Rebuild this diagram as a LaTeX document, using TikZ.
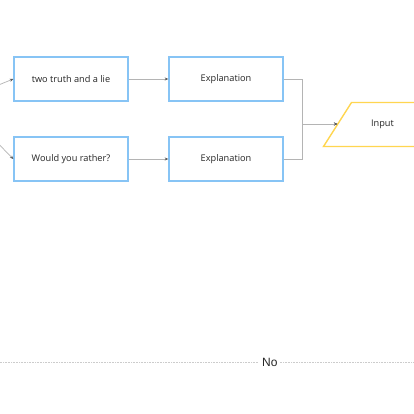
\documentclass[tikz,border=0pt]{standalone}
\usepackage{fontspec}
\setmainfont{Open Sans}
\newfontfamily\labelfont{Liberation Sans}
\usetikzlibrary{arrows.meta}
\definecolor{boxblue}{RGB}{135,196,245}
\definecolor{boxyellow}{RGB}{255,214,80}
\definecolor{linegray}{RGB}{180,180,180}
\definecolor{tipgray}{RGB}{90,90,90}
\tikzset{
  stepbox/.style={draw=boxblue, line width=1.4pt, fill=white, minimum width=114pt, minimum height=44pt, inner sep=0pt, font=\fontsize{9.2}{11}\selectfont, text=black!85},
  conn/.style={draw=linegray, line width=0.7pt, -{Stealth[length=3.5pt,width=3pt,color=tipgray]}},
  nolabel/.style={fill=white, font=\labelfont\fontsize{12}{14}\selectfont, text=black!85, inner sep=3pt}
}
\begin{document}
\begin{tikzpicture}[x=1pt,y=-1pt]
\useasboundingbox (0,0) rectangle (414,414);
\fill[white] (0,0) rectangle (414,414);
\node[stepbox] (b1) at (71,79) {two truth and a lie};
\node[stepbox] (b2) at (71,159) {Would you rather?};
\node[stepbox] (e1) at (226,79) {Explanation};
\node[stepbox] (e2) at (226,159) {Explanation};
\draw[draw=boxyellow, line width=1.4pt, fill=white] (323.5,146.5) -- (351.5,102.5) -- (444,102.5) -- (416,146.5) -- cycle;
\node[font=\fontsize{9.2}{11}\selectfont, text=black!85] (in) at (382.5,124) {Input};
\coordinate (inL) at (337.5,124);
\coordinate (s1) at (-20,92.5);
\coordinate (s2) at (-20,125);
\draw[conn] (s1) -- (b1.west);
\draw[conn] (s2) -- (b2.west);
\draw[conn] (b1) -- (e1);
\draw[conn] (b2) -- (e2);
\draw[conn] (e1.east) -- ++(19,0) |- (inL);
\draw[conn] (e2.east) -- ++(19,0) |- (inL);
\coordinate (nl) at (-5,362.5);
\coordinate (nr) at (420,362.5);
\draw[draw=black!20, line width=0.5pt, dash pattern=on 1pt off 0.6pt] (nl) -- (nr) node[nolabel, pos=0.6465] (no) {No};
\end{tikzpicture}
\end{document}
